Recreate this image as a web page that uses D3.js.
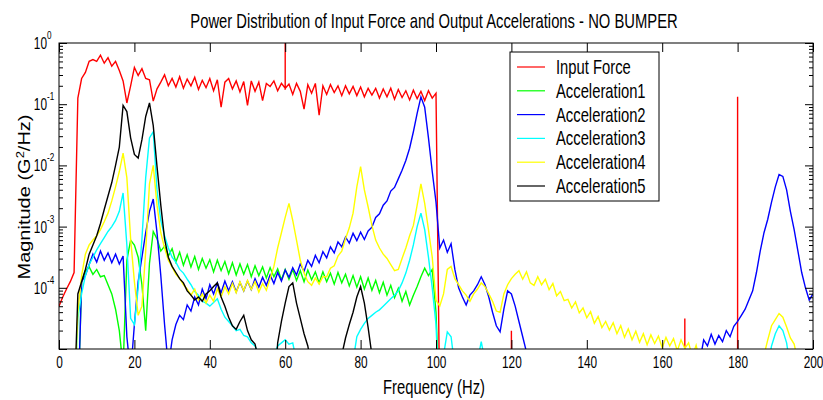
<!DOCTYPE html>
<html>
<head>
<meta charset="utf-8">
<script src="https://cdn.jsdelivr.net/npm/d3@7"></script>
<style>
body { margin: 0; background: #fff; }
svg { font-family: "Liberation Sans", Arial, sans-serif; }
</style>
</head>
<body>
<svg id="chart" width="823" height="400"></svg>
<script>
// Frequency grid (Hz), one sample per Hz from 0 to 200
var freqs = d3.range(0, 201);

// Values are log10 of magnitude (G^2/Hz); -6 means below the plotted range
var inputForce = [
  -4.30,-4.15,-4.02,-3.90,-3.75,-0.90,-0.58,-0.48,-0.30,-0.27,
  -0.30,-0.20,-0.33,-0.24,-0.38,-0.30,-0.45,-0.62,-0.98,-0.70,
  -0.40,-0.53,-0.42,-0.58,-0.60,-0.95,-0.75,-0.64,-0.52,-0.70,
  -0.58,-0.72,-0.55,-0.74,-0.59,-0.70,-0.56,-0.76,-0.61,-0.73,
  -0.58,-0.78,-0.60,-1.05,-0.64,-0.58,-0.75,-0.62,-0.80,-0.63,
  -1.02,-0.62,-0.79,-0.64,-0.94,-0.66,-0.71,-0.62,-0.78,-0.66,
  -0.74,-0.67,-0.84,-0.66,-0.79,-1.08,-0.68,-0.82,-0.66,-1.18,
  -0.70,-0.84,-0.68,-0.81,-0.70,-0.86,-0.70,-0.83,-0.71,-0.86,
  -0.72,-0.88,-0.74,-0.85,-0.74,-0.90,-0.75,-0.88,-0.74,-0.92,
  -0.76,-0.89,-0.78,-0.93,-0.77,-0.91,-0.79,-0.94,-0.78,-0.90,
  -0.82,
  -6,-6,-6,-6,-6,-6,-6,-6,-6,-6,
  -6,-6,-6,-6,-6,-6,-6,-6,-6,-6,
  -6,-6,-6,-6,-6,-6,-6,-6,-6,-6,
  -6,-6,-6,-6,-6,-6,-6,-6,-6,-6,
  -6,-6,-6,-6,-6,-6,-6,-6,-6,-6,
  -6,-6,-6,-6,-6,-6,-6,-6,-6,-6,
  -6,-6,-6,-6,-6,-6,-6,-6,-6,-6,
  -6,-6,-6,-6,-6,-6,-6,-6,-6,-6,
  -6,-6,-6,-6,-6,-6,-6,-6,-6,-6,
  -6,-6,-6,-6,-6,-6,-6,-6,-6,-6
];
// narrow line-frequency spikes on the force signal: [Hz, log10 peak]
var inputForceSpikes = [[60, 0], [120, -4.7], [166, -4.5], [180, -0.88]];

var accel1 = [
  -6,-6,-6,-6,-6,-6,-3.90,-3.72,-3.66,-3.78,
  -3.70,-3.82,-3.80,-3.95,-4.10,-4.35,-4.70,-5.30,-3.55,-3.22,
  -3.30,-3.50,-3.95,-4.70,-3.60,-3.08,-3.20,-3.40,-3.32,-3.48,
  -3.36,-3.58,-3.42,-3.63,-3.46,-3.66,-3.49,-3.70,-3.52,-3.68,
  -3.54,-3.74,-3.55,-3.72,-3.57,-3.77,-3.59,-3.79,-3.61,-3.78,
  -3.62,-3.82,-3.64,-3.80,-3.66,-3.84,-3.67,-3.82,-3.69,-3.87,
  -3.70,-3.86,-3.70,-3.88,-3.72,-3.90,-3.71,-3.87,-3.74,-3.92,
  -3.74,-3.90,-3.76,-3.94,-3.75,-3.92,-3.78,-3.97,-3.80,-3.99,
  -3.82,-4.02,-3.84,-4.04,-3.88,-4.08,-3.91,-4.12,-3.96,-4.16,
  -4.01,-4.22,-4.06,-4.28,-4.12,-3.98,-3.82,-3.68,-3.80,-3.70,
  -4.40,
  -6,-6,-6,-6,-6,-6,-6,-6,-6,-6,
  -6,-6,-6,-6,-6,-6,-6,-6,-6,-6,
  -6,-6,-6,-6,-6,-6,-6,-6,-6,-6,
  -6,-6,-6,-6,-6,-6,-6,-6,-6,-6,
  -6,-6,-6,-6,-6,-6,-6,-6,-6,-6,
  -6,-6,-6,-6,-6,-6,-6,-6,-6,-6,
  -6,-6,-6,-6,-6,-6,-6,-6,-6,-6,
  -6,-6,-6,-6,-6,-6,-6,-6,-6,-6,
  -6,-6,-6,-6,-6,-6,-6,-6,-6,-6,
  -6,-6,-6,-6,-6,-6,-6,-6,-6,-6
];

var accel2 = [
  -6,-6,-6,-6,-6,-6,-3.90,-3.80,-3.62,-3.45,
  -3.58,-3.40,-3.55,-3.43,-3.59,-3.45,-3.61,-3.48,-4.80,-5.40,
  -4.60,-3.90,-3.50,-3.10,-2.75,-2.55,-3.10,-3.80,-4.60,-5.30,
  -4.85,-4.60,-4.45,-4.52,-4.28,-4.38,-4.15,-4.28,-4.02,-4.18,
  -3.95,-4.10,-3.92,-4.08,-3.89,-4.05,-3.90,-4.07,-3.91,-4.05,
  -3.89,-4.03,-3.85,-3.99,-3.83,-3.96,-3.79,-3.93,-3.75,-3.89,
  -3.71,-3.83,-3.67,-3.79,-3.61,-3.73,-3.55,-3.65,-3.47,-3.59,
  -3.41,-3.51,-3.33,-3.43,-3.25,-3.33,-3.17,-3.27,-3.11,-3.23,
  -3.09,-3.21,-3.07,-3.01,-2.85,-2.79,-2.65,-2.58,-2.42,-2.36,
  -2.22,-2.08,-1.92,-1.72,-1.45,-1.15,-0.88,-1.05,-1.55,-2.10,
  -2.60,-3.35,-3.22,-3.42,-3.28,-3.70,-4.00,-4.15,-4.28,-4.12,
  -4.05,-3.95,-3.82,-3.95,-4.15,-4.40,-4.62,-4.72,-4.35,-4.05,
  -4.10,-4.30,-4.55,-4.80,-5.05,-5.40,-6,-6,-6,-6,
  -6,-6,-6,-6,-6,-6,-6,-6,-6,-6,
  -6,-6,-6,-6,-6,-6,-6,-6,-6,-6,
  -6,-6,-6,-6,-6,-6,-6,-6,-6,-6,
  -6,-6,-6,-6,-6,-6,-6,-6,-6,-6,
  -5.20,-4.85,-4.95,-4.76,-4.92,-4.78,-4.88,-4.70,-4.80,-4.63,
  -4.55,-4.45,-4.35,-4.20,-4.05,-3.75,-3.40,-3.10,-2.88,-2.60,
  -2.35,-2.15,-2.18,-2.40,-2.75,-3.05,-3.40,-3.75,-4.00,-4.20,
  -4.10
];

var accel3 = [
  -6,-6,-6,-6,-6,-4.50,-4.10,-3.80,-3.62,-3.50,
  -3.38,-3.28,-3.18,-3.08,-3.00,-2.90,-2.75,-2.45,-3.30,-4.50,
  -4.60,-4.00,-3.20,-2.20,-1.55,-1.45,-2.40,-2.90,-3.15,-3.35,
  -3.50,-3.58,-3.70,-3.76,-3.86,-3.95,-4.06,-4.12,-4.22,-4.25,
  -4.30,-4.24,-4.18,-4.35,-4.48,-4.55,-4.62,-4.70,-4.68,-4.78,
  -4.80,-4.90,-4.95,-5.10,-5.30,-6,-6,-5.10,-4.95,-4.90,
  -4.85,-4.92,-4.90,-5.20,-6,-6,-6,-6,-6,-6,
  -6,-6,-6,-6,-6,-6,-6,-6,-5.20,-4.80,
  -4.68,-4.58,-4.50,-4.45,-4.40,-4.36,-4.30,-4.24,-4.18,-4.12,
  -4.05,-3.92,-3.76,-3.55,-3.30,-3.00,-2.78,-3.05,-3.50,-4.00,
  -4.60,-6,-5.10,-4.72,-4.80,-5.30,-6,-6,-6,-6,
  -6,-5.20,-4.88,-5.20,-6,-6,-6,-6,-6,-6,
  -6,-6,-6,-6,-6,-6,-6,-6,-6,-6,
  -6,-6,-6,-6,-6,-6,-6,-6,-6,-6,
  -6,-6,-6,-6,-6,-6,-6,-6,-6,-6,
  -6,-6,-6,-6,-6,-6,-6,-6,-6,-6,
  -6,-6,-6,-6,-6,-6,-6,-6,-6,-6,
  -6,-6,-6,-6,-6,-6,-6,-6,-6,-6,
  -6,-6,-6,-6,-6,-6,-6,-6,-5.30,-4.95,
  -4.75,-4.62,-4.70,-4.90,-5.30,-6,-6,-6,-6,-6,
  -6
];

var accel4 = [
  -6,-6,-6,-6,-6,-4.40,-3.80,-3.45,-3.30,-3.22,
  -3.15,-3.05,-2.92,-2.78,-2.58,-2.35,-2.10,-1.80,-2.20,-3.20,
  -3.90,-4.45,-4.30,-3.40,-2.30,-2.00,-2.65,-3.10,-3.35,-3.55,
  -3.66,-3.78,-3.85,-3.95,-4.02,-4.12,-4.02,-4.20,-4.10,-4.25,
  -4.12,-4.22,-4.02,-4.15,-3.98,-4.10,-3.93,-4.08,-3.90,-4.05,
  -3.88,-4.03,-3.90,-4.07,-3.93,-4.04,-3.85,-3.65,-3.35,-3.10,
  -2.85,-2.62,-2.90,-3.22,-3.55,-3.76,-3.90,-3.96,-3.84,-3.94,
  -3.82,-3.82,-3.68,-3.64,-3.48,-3.40,-3.20,-3.02,-2.78,-2.35,
  -2.02,-2.40,-2.68,-2.98,-3.22,-3.35,-3.45,-3.52,-3.62,-3.72,
  -3.70,-3.52,-3.35,-3.15,-2.98,-2.65,-2.30,-2.62,-3.05,-3.50,
  -4.20,-4.30,-4.10,-3.70,-3.65,-3.85,-3.95,-4.05,-4.12,-4.22,
  -4.10,-4.02,-3.92,-3.98,-4.10,-4.22,-4.38,-4.40,-4.10,-3.95,
  -3.85,-3.78,-3.72,-3.86,-3.74,-3.92,-3.96,-3.82,-3.95,-3.86,
  -4.03,-3.93,-4.13,-4.06,-4.21,-4.19,-4.33,-4.23,-4.41,-4.33,
  -4.49,-4.39,-4.58,-4.47,-4.65,-4.55,-4.69,-4.57,-4.75,-4.62,
  -4.81,-4.67,-4.85,-4.71,-4.89,-4.75,-4.93,-4.77,-4.91,-4.79,
  -4.98,-4.81,-4.95,-4.83,-5.03,-4.85,-4.99,-4.90,-5.12,-4.94,
  -5.20,-6,-6,-6,-6,-6,-6,-6,-6,-6,
  -6,-6,-6,-6,-6,-6,-6,-5.10,-4.85,-4.62,
  -4.52,-4.42,-4.48,-4.64,-4.82,-4.92,-5.20,-6,-6,-6,
  -6
];

var accel5 = [
  -6,-6,-6,-6,-6,-4.10,-3.90,-3.70,-3.45,-3.30,
  -3.15,-2.95,-2.72,-2.50,-2.28,-2.00,-1.70,-1.02,-1.12,-1.55,
  -1.82,-1.88,-1.58,-1.20,-0.98,-1.35,-2.02,-2.65,-3.20,-3.50,
  -3.65,-3.75,-3.85,-3.92,-4.05,-4.12,-4.20,-4.15,-4.22,-4.10,
  -4.05,-3.98,-3.92,-4.15,-4.30,-4.48,-4.62,-4.68,-4.55,-4.45,
  -4.70,-4.85,-4.92,-5.20,-6,-6,-6,-6,-4.90,-4.55,
  -4.25,-3.98,-3.92,-4.25,-4.50,-4.75,-4.95,-5.30,-6,-6,
  -6,-6,-6,-6,-6,-5.10,-4.82,-4.60,-4.40,-4.15,
  -3.98,-4.25,-4.65,-5.10,-6,-6,-6,-6,-6,-6,
  -6,-6,-6,-6,-6,-6,-6,-6,-6,-6,
  -6,-6,-6,-6,-6,-6,-6,-6,-6,-6,
  -6,-6,-6,-6,-6,-6,-6,-6,-6,-6,
  -6,-6,-6,-6,-6,-6,-6,-6,-6,-6,
  -6,-6,-6,-6,-6,-6,-6,-6,-6,-6,
  -6,-6,-6,-6,-6,-6,-6,-6,-6,-6,
  -6,-6,-6,-6,-6,-6,-6,-6,-6,-6,
  -6,-6,-6,-6,-6,-6,-6,-6,-6,-6,
  -6,-6,-6,-6,-6,-6,-6,-6,-6,-6,
  -6,-6,-6,-6,-6,-6,-6,-6,-6,-6,
  -6,-6,-6,-6,-6,-6,-6,-6,-6,-6,
  -6
];

var seriesNames = ["Input Force", "Acceleration1", "Acceleration2", "Acceleration3", "Acceleration4", "Acceleration5"];
var seriesColors = ["#ff0000", "#00ff00", "#0000ff", "#00ffff", "#ffff00", "#000000"];
var seriesValues = [inputForce, accel1, accel2, accel3, accel4, accel5];
var seriesSpikes = [inputForceSpikes, [], [], [], [], []];

var xTicks = [0, 20, 40, 60, 80, 100, 120, 140, 160, 180, 200];
var yLabelExponents = [-4, -3, -2, -1, 0];

var titleText = "Power Distribution of Input Force and Output Accelerations - NO BUMPER";

// the original picture is squeezed horizontally, so glyphs are too
var squeeze = 0.74;

var svg = d3.select("#chart");
var plot = {left: 59, right: 813, top: 43, bottom: 349};

// Scales
var x = d3.scaleLinear().domain([0, 200]).range([plot.left, plot.right]);
var y = d3.scaleLog().domain([1e-5, 1]).range([plot.bottom, plot.top]);

svg.append("defs").append("clipPath").attr("id", "plotClip")
  .append("rect")
  .attr("x", plot.left).attr("y", plot.top)
  .attr("width", plot.right - plot.left).attr("height", plot.bottom - plot.top);

// Build points of one trace, with spikes inserted as vertical strokes
function tracePoints(values, spikes) {
  var pts = [];
  values.forEach(function(v, i) {
    pts.push([freqs[i], v]);
    spikes.forEach(function(s) {
      if(s[0] === freqs[i]) {
        pts.push([s[0], s[1]]);
        pts.push([freqs[i], v]);
      }
    });
  });
  return pts;
}

var line = d3.line()
  .x(function(d) { return x(d[0]); })
  .y(function(d) { return y(Math.pow(10, d[1])); });

var traces = svg.append("g").attr("clip-path", "url(#plotClip)");
seriesValues.forEach(function(values, i) {
  traces.append("path")
    .datum(tracePoints(values, seriesSpikes[i]))
    .attr("fill", "none")
    .attr("stroke", seriesColors[i])
    .attr("stroke-width", 1.4)
    .attr("stroke-linejoin", "miter")
    .attr("d", line);
});

// Axes (ticks point inward, MATLAB style)
function isDecade(t) {
  return Math.abs(Math.log10(t) - Math.round(Math.log10(t))) < 1e-6;
}
var majorTicks = y.ticks().filter(isDecade);
var minorTicks = y.ticks().filter(function(t) { return !isDecade(t); });

function cleanAxis(g) {
  g.select(".domain").remove();
  g.attr("font-family", null).attr("font-size", null);
  g.selectAll("line").attr("stroke", "#000");
}

var gx = svg.append("g")
  .attr("transform", "translate(0," + plot.bottom + ")")
  .call(d3.axisBottom(x).tickValues(xTicks).tickSizeInner(-9).tickSizeOuter(0).tickPadding(8));
cleanAxis(gx);
gx.selectAll("text")
  .attr("font-size", 16)
  .attr("fill", "#000")
  .attr("transform", "scale(" + squeeze + ",1)");

var gxTop = svg.append("g")
  .attr("transform", "translate(0," + plot.top + ")")
  .call(d3.axisTop(x).tickValues(xTicks).tickSizeInner(-9).tickSizeOuter(0).tickFormat(""));
cleanAxis(gxTop);

[[d3.axisLeft, plot.left], [d3.axisRight, plot.right]].forEach(function(a) {
  var gMaj = svg.append("g").attr("transform", "translate(" + a[1] + ",0)")
    .call(a[0](y).tickValues(majorTicks).tickSizeInner(-8).tickSizeOuter(0).tickFormat(""));
  cleanAxis(gMaj);
  var gMin = svg.append("g").attr("transform", "translate(" + a[1] + ",0)")
    .call(a[0](y).tickValues(minorTicks).tickSizeInner(-4).tickSizeOuter(0).tickFormat(""));
  cleanAxis(gMin);
});

// Frame
svg.append("rect")
  .attr("x", plot.left).attr("y", plot.top)
  .attr("width", plot.right - plot.left).attr("height", plot.bottom - plot.top)
  .attr("fill", "none").attr("stroke", "#000").attr("stroke-width", 1);

// Text helper: squeezed text anchored at (px, py)
function label(parent, px, py, str, size, anchor) {
  return parent.append("text")
    .attr("transform", "translate(" + px + "," + py + ") scale(" + squeeze + ",1)")
    .attr("text-anchor", anchor)
    .attr("font-size", size)
    .attr("fill", "#000")
    .text(str);
}

// Y tick labels as 10 with superscript exponent
var yLabels = svg.append("g");
yLabelExponents.forEach(function(e) {
  var ty = y(Math.pow(10, e));
  label(yLabels, plot.left - 12, ty + 6, "10", 16, "end");
  label(yLabels, plot.left - 12, ty - 4, String(e), 11, "start");
});

// Title and axis labels
label(svg, 434, 28, titleText, 20, "middle");
label(svg, 434, 394, "Frequency (Hz)", 20, "middle");

var yTitle = svg.append("text")
  .attr("transform", "translate(30,197) rotate(-90) scale(1,0.8)")
  .attr("text-anchor", "middle")
  .attr("font-size", 20)
  .attr("fill", "#000");
yTitle.append("tspan").text("Magnitude (G");
yTitle.append("tspan").attr("font-size", 13).attr("dy", -8).text("2");
yTitle.append("tspan").attr("dy", 8).text("/Hz)");

// Legend
var legend = svg.append("g");
legend.append("rect")
  .attr("x", 510).attr("y", 52).attr("width", 149).attr("height", 149)
  .attr("fill", "#fff").attr("stroke", "#000").attr("stroke-width", 1);
seriesNames.forEach(function(name, i) {
  var ry = 67 + i * 23.8;
  legend.append("line")
    .attr("x1", 517).attr("x2", 545).attr("y1", ry).attr("y2", ry)
    .attr("stroke", seriesColors[i]).attr("stroke-width", 1.2);
  label(legend, 556, ry + 7, name, 20, "start");
});
</script>
</body>
</html>
